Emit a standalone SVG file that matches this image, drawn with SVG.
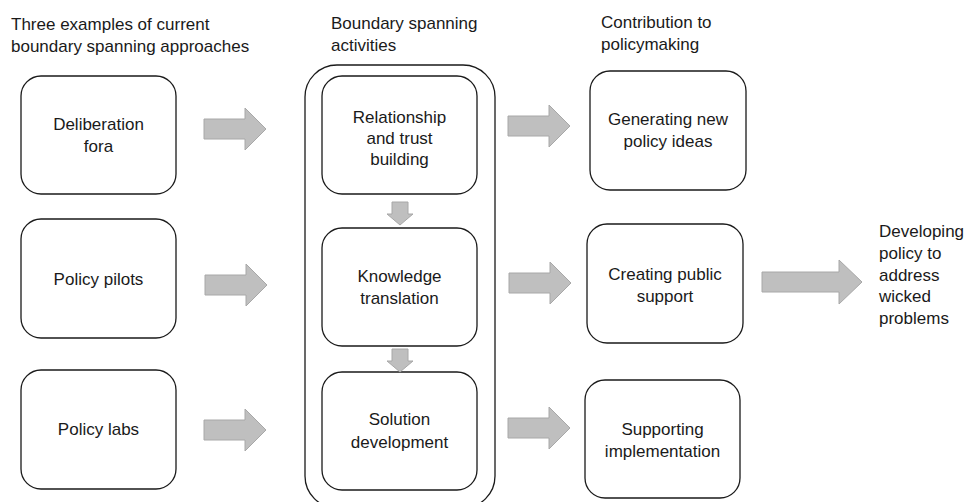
<svg xmlns="http://www.w3.org/2000/svg" xmlns:xlink="http://www.w3.org/1999/xlink" width="968" height="502" viewBox="0 0 968 502">
  <style>
    .box { fill: #ffffff; stroke: #1a1a1a; stroke-width: 1.3; }
    .frame { fill: none; stroke: #1a1a1a; stroke-width: 1.3; }
    .arrow { fill: #bfbfbf; stroke: #a8a8a8; stroke-width: 1; }
    text { font-family: "Liberation Sans", Arial, sans-serif; font-size: 17px; fill: #1a1a1a; }
    .c { text-anchor: middle; }
  </style>
  <defs>
    <!-- block arrow pointing right, tip at origin -->
    <polygon id="arrowR" class="arrow" points="-62,-10 -21,-10 -21,-21 0,0 -21,21 -21,10 -62,10"/>
    <!-- small block arrow pointing down, tip at origin -->
    <polygon id="arrowD" class="arrow" points="-8,-23 8,-23 8,-11 13,-11 0,0 -13,-11 -8,-11"/>
  </defs>

  <rect width="968" height="502" fill="#ffffff"/>

  <!-- column headings -->
  <g id="heading-approaches">
    <text x="11" y="30">Three examples of current</text>
    <text x="11" y="52">boundary spanning approaches</text>
  </g>
  <g id="heading-activities">
    <text x="331" y="29">Boundary spanning</text>
    <text x="331" y="51">activities</text>
  </g>
  <g id="heading-contribution">
    <text x="601" y="28">Contribution to</text>
    <text x="601" y="50">policymaking</text>
  </g>

  <!-- container around the activities (runs past the bottom edge) -->
  <g id="activities-frame">
    <rect class="frame" x="305" y="65" width="190" height="443" rx="32" ry="32"/>
  </g>

  <!-- approaches -->
  <g id="deliberation-fora">
    <rect class="box" x="21" y="76" width="155" height="118" rx="20" ry="20"/>
    <text class="c" x="98.5" y="130">Deliberation</text>
    <text class="c" x="98.5" y="152">fora</text>
  </g>
  <g id="policy-pilots">
    <rect class="box" x="21" y="219" width="155" height="119" rx="20" ry="20"/>
    <text class="c" x="98.5" y="285">Policy pilots</text>
  </g>
  <g id="policy-labs">
    <rect class="box" x="21" y="370" width="155" height="119" rx="20" ry="20"/>
    <text class="c" x="98.5" y="435">Policy labs</text>
  </g>

  <!-- activities -->
  <g id="relationship-trust">
    <rect class="box" x="322" y="76" width="155" height="118" rx="20" ry="20"/>
    <text class="c" x="399.5" y="123">Relationship</text>
    <text class="c" x="399.5" y="144">and trust</text>
    <text class="c" x="399.5" y="165">building</text>
  </g>
  <g id="knowledge-translation">
    <rect class="box" x="322" y="228" width="155" height="118" rx="20" ry="20"/>
    <text class="c" x="399.5" y="282">Knowledge</text>
    <text class="c" x="399.5" y="304">translation</text>
  </g>
  <g id="solution-development">
    <rect class="box" x="322" y="372" width="155" height="118" rx="20" ry="20"/>
    <text class="c" x="399.5" y="425">Solution</text>
    <text class="c" x="399.5" y="448">development</text>
  </g>

  <!-- contributions -->
  <g id="new-policy-ideas">
    <rect class="box" x="590" y="71" width="156" height="119" rx="20" ry="20"/>
    <text class="c" x="668" y="125">Generating new</text>
    <text class="c" x="668" y="147">policy ideas</text>
  </g>
  <g id="public-support">
    <rect class="box" x="587" y="224" width="156" height="119" rx="20" ry="20"/>
    <text class="c" x="665" y="280">Creating public</text>
    <text class="c" x="665" y="302">support</text>
  </g>
  <g id="supporting-implementation">
    <rect class="box" x="585" y="380" width="155" height="118" rx="20" ry="20"/>
    <text class="c" x="662.5" y="435">Supporting</text>
    <text class="c" x="662.5" y="457">implementation</text>
  </g>

  <!-- outcome -->
  <g id="outcome">
    <text x="879" y="237">Developing</text>
    <text x="879" y="259">policy to</text>
    <text x="879" y="281">address</text>
    <text x="879" y="302">wicked</text>
    <text x="879" y="324">problems</text>
  </g>

  <!-- connectors -->
  <g id="connectors">
    <use xlink:href="#arrowR" transform="translate(266,129)"/>
    <use xlink:href="#arrowR" transform="translate(267,285)"/>
    <use xlink:href="#arrowR" transform="translate(266,430)"/>
    <use xlink:href="#arrowR" transform="translate(570,126)"/>
    <use xlink:href="#arrowR" transform="translate(571,283)"/>
    <use xlink:href="#arrowR" transform="translate(570,428)"/>
    <use xlink:href="#arrowD" transform="translate(400,225)"/>
    <use xlink:href="#arrowD" transform="translate(400,372)"/>
    <polygon class="arrow" points="762,272 839,272 839,260 862,282 839,304 839,292 762,292"/>
  </g>
</svg>
